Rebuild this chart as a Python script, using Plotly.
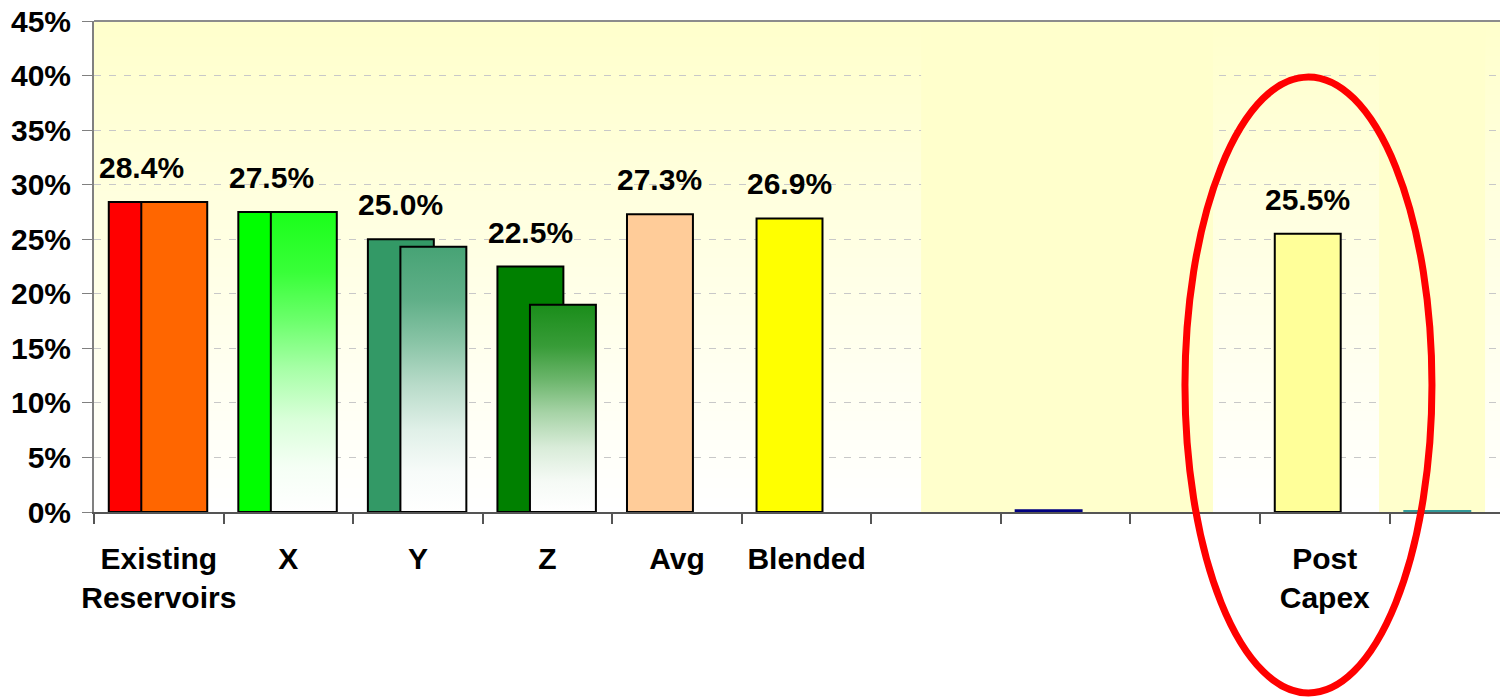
import base64
import struct
import zlib
import plotly.graph_objects as go

# Slots along the x axis (empty strings are unlabelled slots)
categories = ["Existing<br>Reservoirs", "X", "Y", "Z", "Avg", "Blended", "", "", "", "Post<br>Capex", ""]

# Left (labelled) bar of each slot, in %
primary = [28.4, 27.5, 25.0, 22.5, 27.3, 26.9, None, 0.15, None, 25.5, 0.1]
primary_labels = ["28.4%", "27.5%", "25.0%", "22.5%", "27.3%", "26.9%", "", "", "", "25.5%", ""]

# Right (overlapping) bar of each slot, in %
secondary = [28.4, 27.5, 24.3, 19.0, None, None, None, None, None, None, None]

# Styles
primary_colors = ["#FF0000", "#00FF00", "#339966", "#008000", "#FFCC99", "#FFFF00",
                  "#FFFFFF", "#000080", "#FFFFFF", "#FFFF99", "#33CCCC"]
primary_edges = ["black"] * 7 + ["#000080", "black", "black", "#339999"]
# solid colour or ("fade", rgb) for a colour-to-white gradient
secondary_fill = ["#FF6600", ("fade", (0, 255, 0)), ("fade", (51, 153, 102)), ("fade", (0, 128, 0)),
                  None, None, None, None, None, None, None]

FONT = "Liberation Sans, Arial, sans-serif"
BAR_W = 0.509
OFF1 = -0.386
OFF2 = -0.135
EDGE = 2
FADE = [(0.0, 0.0), (0.15, 0.04), (0.31, 0.15), (0.48, 0.35), (0.64, 0.58), (0.8, 0.78), (1.0, 0.9)]


def fade_scale(rgb):
    return [[f, "rgb(%d,%d,%d)" % tuple(round(255 + (c - 255) * m) for c in rgb)] for f, m in FADE]


def gradient_png(top, bottom, n=256, w=4):
    # tiny vertical gradient PNG used as the plot background
    rows = []
    for i in range(n):
        px = bytes(round(a + (b - a) * i / (n - 1)) for a, b in zip(top, bottom))
        rows.append(b"\x00" + px * w)
    raw = b"".join(rows)

    def chunk(tag, data):
        return struct.pack(">I", len(data)) + tag + data + struct.pack(">I", zlib.crc32(tag + data) & 0xffffffff)

    png = (b"\x89PNG\r\n\x1a\n"
           + chunk(b"IHDR", struct.pack(">IIBBBBB", w, n, 8, 2, 0, 0, 0))
           + chunk(b"IDAT", zlib.compress(raw))
           + chunk(b"IEND", b""))
    return "data:image/png;base64," + base64.b64encode(png).decode()


xs = list(range(len(categories)))
fig = go.Figure()

# left bars
fig.add_trace(go.Bar(x=xs, y=primary, offset=OFF1, width=BAR_W,
                     marker=dict(color=primary_colors, line=dict(color=primary_edges, width=EDGE)),
                     hoverinfo="skip"))

# right bars: solid ones as bars, gradient ones as filled polygons
for i, v in enumerate(secondary):
    if v is None:
        continue
    style = secondary_fill[i]
    if isinstance(style, str):
        fig.add_trace(go.Bar(x=[i], y=[v], offset=OFF2, width=BAR_W,
                             marker=dict(color=style, line=dict(color="black", width=EDGE)),
                             hoverinfo="skip"))
    else:
        x0 = i + OFF2
        x1 = x0 + BAR_W
        fig.add_trace(go.Scatter(x=[x0, x0, x1, x1, x0], y=[0, v, v, 0, 0], mode="lines",
                                 fill="toself",
                                 fillgradient=dict(type="vertical", colorscale=fade_scale(style[1])),
                                 line=dict(color="black", width=EDGE), hoverinfo="skip"))

# value labels above the left bars
for i, (v, t) in enumerate(zip(primary, primary_labels)):
    if v is None or not t:
        continue
    fig.add_annotation(x=i + OFF1 + BAR_W / 2, y=v, text=t, showarrow=False,
                       yanchor="bottom", yshift=16,
                       font=dict(family=FONT, size=30, color="black", weight="bold"))

# plain yellow panels behind the right-hand slots
for a, b in [(5.884, 8.137), (9.419, 10.237)]:
    fig.add_shape(type="rect", xref="x", yref="y", x0=a, x1=b, y0=0, y1=45,
                  fillcolor="#FFFFCC", line=dict(width=0), layer="between")

# frame top and red highlight ellipse
fig.add_shape(type="line", xref="paper", yref="paper", x0=0, x1=1, y0=1, y1=1,
              line=dict(color="#8C8C8C", width=2))
fig.add_shape(type="circle", xref="paper", yref="paper", x0=0.7672, x1=0.9409, y0=-0.3686, y1=0.886,
              line=dict(color="#FF0000", width=7))

# the page body adds an 8px offset, so margins are trimmed by that much
fig.update_layout(
    width=1508, height=698,
    margin=dict(l=86, r=0, t=13, b=194),
    paper_bgcolor="white", plot_bgcolor="white",
    barmode="overlay", showlegend=False,
    font=dict(family=FONT, size=30, color="black", weight="bold"),
    images=[dict(source=gradient_png((255, 255, 204), (255, 255, 255)),
                 xref="paper", yref="paper", x=0, y=1, sizex=1, sizey=1,
                 sizing="stretch", layer="below")],
)
fig.update_xaxes(range=[-0.5, 10.476], tickmode="array", tickvals=xs, ticktext=categories,
                 ticks="", showgrid=False, zeroline=False, automargin=False,
                 showline=True, linecolor="#555555", linewidth=2, ticklabelstandoff=19,
                 ticklabeloverflow="allow",
                 minor=dict(tickmode="array", tickvals=[i - 0.5 for i in range(len(categories) + 1)],
                            ticks="outside", ticklen=10, tickwidth=2, tickcolor="#555555", showgrid=False))
fig.update_yaxes(range=[0, 45], dtick=5, ticksuffix="%", ticks="outside", ticklen=10,
                 tickcolor="#808080", showline=True, linecolor="#808080", linewidth=2,
                 showgrid=True, gridcolor="#C8C8C8", gridwidth=1, griddash="7px,8px",
                 zeroline=False, automargin=False, ticklabelstandoff=5,
                 ticklabeloverflow="allow")

fig.write_html("out.html")
